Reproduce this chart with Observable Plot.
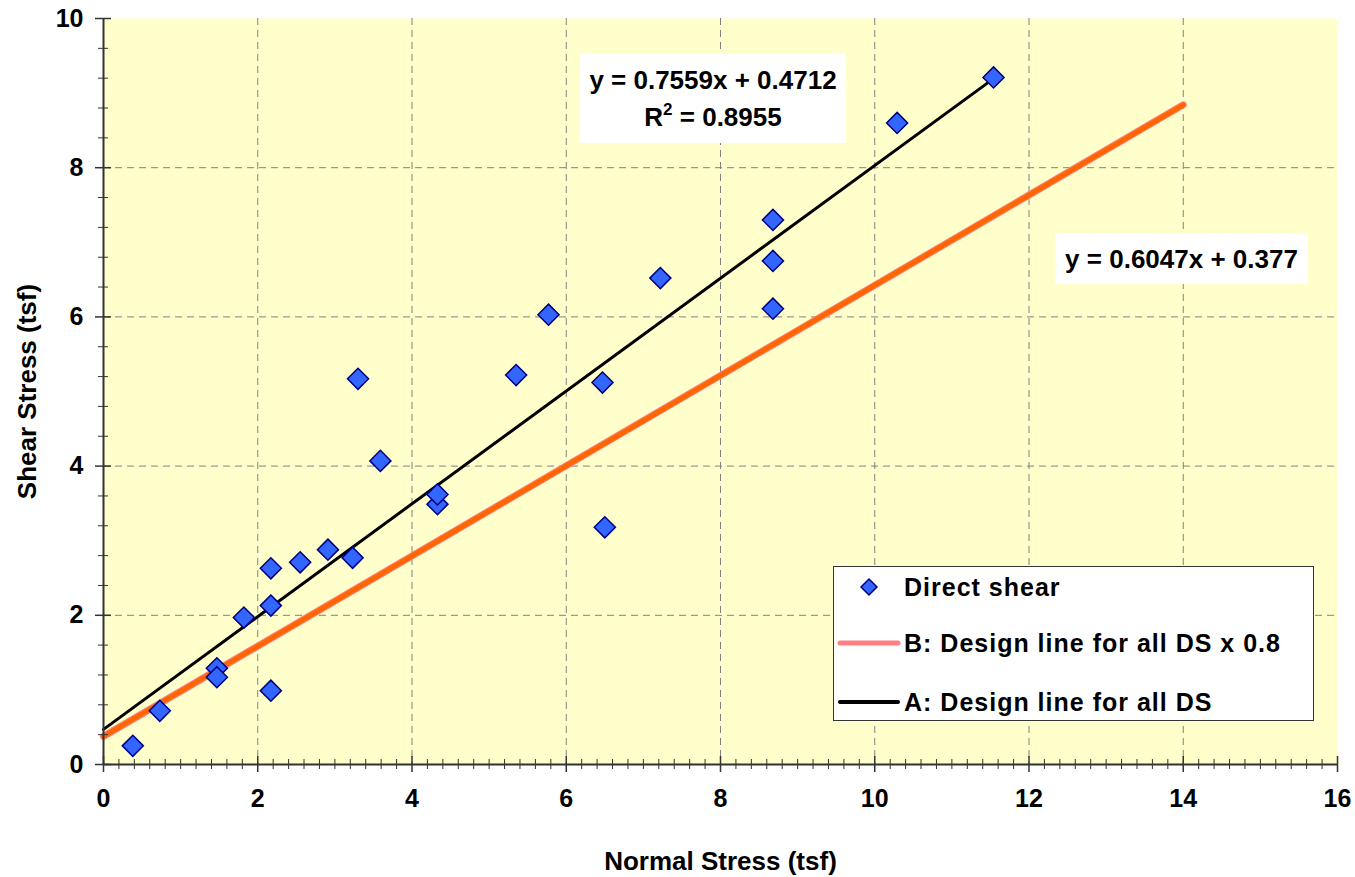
<!DOCTYPE html>
<html>
<head>
<meta charset="utf-8">
<script src="https://cdn.jsdelivr.net/npm/d3@7"></script>
<script src="https://cdn.jsdelivr.net/npm/@observablehq/plot@0.6"></script>
<style>
  body { margin: 0; background: #fff; }
  #wrap { position: relative; width: 1355px; height: 877px; font-family: "Liberation Sans", Arial, sans-serif; font-weight: bold; }
  .box { position: absolute; background: #fff; color: #000; text-align: center; }
  #legend { position: absolute; left: 833px; top: 566px; width: 479px; height: 153px; background: #fff; border: 1px solid #333; }
  .lrow { position: absolute; left: 0; height: 30px; display: flex; align-items: center; }
  .lrow span { font-size: 25px; letter-spacing: 1px; position: absolute; left: 70px; white-space: nowrap; }
</style>
</head>
<body>
<div id="wrap"></div>
<script>
// ---- data ----
const normalStress = [0.38, 0.73, 1.47, 1.47, 1.82, 2.17, 2.17, 2.17, 2.55, 2.91, 3.23, 3.30, 3.59, 4.33, 4.33, 5.35, 5.77, 6.47, 6.50, 7.22, 8.68, 8.68, 8.68, 10.29, 11.54];
const shearStress  = [0.25, 0.72, 1.29, 1.17, 1.97, 2.13, 2.63, 0.99, 2.71, 2.88, 2.77, 5.17, 4.07, 3.49, 3.62, 5.22, 6.03, 5.12, 3.18, 6.52, 7.30, 6.75, 6.11, 8.60, 9.21];
// design line A (trend line) end points
const lineAx = [0, 11.54];
const lineAy = [0.471, 9.194];
// design line B (A x 0.8) end points
const lineBx = [0, 14];
const lineBy = [0.377, 8.843];
const xTicks = [0, 2, 4, 6, 8, 10, 12, 14, 16];
const yTicks = [0, 2, 4, 6, 8, 10];
const xGrid = [2, 4, 6, 8, 10, 12, 14];
const yGrid = [2, 4, 6, 8];
const xMinor = d3.range(0, 80).map(i => +(i * 0.2).toFixed(1)).filter(v => v % 2 !== 0);
const yMinor = d3.range(0, 25).map(i => +(i * 0.4).toFixed(1)).filter(v => v % 2 !== 0);
const xLabel = "Normal Stress (tsf)";
const yLabel = "Shear Stress (tsf)";
const eqA = ["y = 0.7559x + 0.4712", "R", "2", " = 0.8955"];
const eqB = "y = 0.6047x + 0.377";
const legendLabels = ["Direct shear", "B: Design line for all DS x 0.8", "A: Design line for all DS"];

const points = normalStress.map((x, i) => ({x, y: shearStress[i]}));
const lineA = lineAx.map((x, i) => ({x, y: lineAy[i]}));
const lineB = lineBx.map((x, i) => ({x, y: lineBy[i]}));

const W = 1355, H = 877, mL = 103, mR = 18, mT = 18, mB = 113;
const innerW = W - mL - mR, innerH = H - mT - mB;

const chart = Plot.plot({
  width: W, height: H,
  marginLeft: mL, marginRight: mR, marginTop: mT, marginBottom: mB,
  style: {fontFamily: '"Liberation Sans", Arial, sans-serif', fontWeight: "bold", color: "#000", background: "#fff"},
  x: {domain: [0, 16]},
  y: {domain: [0, 10]},
  marks: [
    Plot.frame({fill: "#FFFFCC", stroke: null}),
    Plot.ruleX(xGrid, {stroke: "#808080", strokeWidth: 1, strokeDasharray: "7,5"}),
    Plot.ruleY(yGrid, {stroke: "#808080", strokeWidth: 1, strokeDasharray: "7,5"}),
    Plot.line(lineB, {x: "x", y: "y", stroke: "#FF8080", strokeWidth: 7}),
    Plot.line(lineB, {x: "x", y: "y", stroke: "#FF6600", strokeWidth: 5}),
    Plot.line(lineA, {x: "x", y: "y", stroke: "#000", strokeWidth: 3}),
    Plot.dot(points, {x: "x", y: "y", symbol: "diamond2", r: 9.5, fill: "#3366FF", stroke: "#000080", strokeWidth: 1.5}),
    // minor ticks (crossing axis)
    Plot.ruleX(xMinor, {stroke: "#333", strokeWidth: 1, insetTop: innerH - 5, insetBottom: -5}),
    Plot.ruleY(yMinor, {stroke: "#333", strokeWidth: 1, insetRight: innerW - 5, insetLeft: -5}),
    // major ticks (crossing axis)
    Plot.ruleX(xTicks, {stroke: "#333", strokeWidth: 1.5, insetTop: innerH - 8, insetBottom: -8}),
    Plot.ruleY(yTicks, {stroke: "#333", strokeWidth: 1.5, insetRight: innerW - 8, insetLeft: -8}),
    // axis lines
    Plot.ruleX([0], {stroke: "#333", strokeWidth: 2}),
    Plot.ruleY([0], {stroke: "#333", strokeWidth: 2}),
    Plot.axisX(xTicks, {tickSize: 0, tickPadding: 25, fontSize: 25, fontWeight: "bold", tickFormat: d => String(d), label: null}),
    Plot.axisY(yTicks, {tickSize: 0, tickPadding: 20, fontSize: 25, fontWeight: "bold", tickFormat: d => String(d), label: null}),
    Plot.text([xLabel], {frameAnchor: "bottom", dy: 105, fontSize: 26, fontWeight: "bold", fill: "#000"}),
    Plot.text([yLabel], {frameAnchor: "left", textAnchor: "middle", dx: -76, rotate: -90, fontSize: 26, fontWeight: "bold", fill: "#000"})
  ]
});

const wrap = document.getElementById("wrap");
wrap.appendChild(chart);

// equation boxes
const b1 = document.createElement("div");
b1.className = "box";
Object.assign(b1.style, {left: "580px", top: "54px", width: "266px", height: "89px", fontSize: "26px", lineHeight: "37px", paddingTop: "8px", boxSizing: "border-box"});
b1.innerHTML = `${eqA[0]}<br>${eqA[1]}<sup style="font-size:17px;vertical-align:11px;line-height:0">${eqA[2]}</sup>${eqA[3]}`;
wrap.appendChild(b1);

const b2 = document.createElement("div");
b2.className = "box";
Object.assign(b2.style, {left: "1055px", top: "234px", width: "253px", height: "50px", fontSize: "26px", lineHeight: "50px"});
b2.textContent = eqB;
wrap.appendChild(b2);

// legend
const leg = document.createElement("div");
leg.id = "legend";
const rowsY = [5, 61, 120];
const swatches = [
  `<svg width="70" height="30" style="position:absolute;left:0;top:0"><path d="M35,7 L43,15 L35,23 L27,15 Z" fill="#3366FF" stroke="#000080" stroke-width="1.5"/></svg>`,
  `<svg width="70" height="30" style="position:absolute;left:0;top:0"><line x1="6" y1="15" x2="64" y2="15" stroke="#FF8080" stroke-width="5" stroke-linecap="round"/></svg>`,
  `<svg width="70" height="30" style="position:absolute;left:0;top:0"><line x1="6" y1="15" x2="64" y2="15" stroke="#000" stroke-width="4" stroke-linecap="round"/></svg>`
];
legendLabels.forEach((t, i) => {
  const r = document.createElement("div");
  r.className = "lrow";
  r.style.top = rowsY[i] + "px";
  r.style.width = "470px";
  r.innerHTML = swatches[i] + `<span>${t}</span>`;
  leg.appendChild(r);
});
wrap.appendChild(leg);
</script>
</body>
</html>
